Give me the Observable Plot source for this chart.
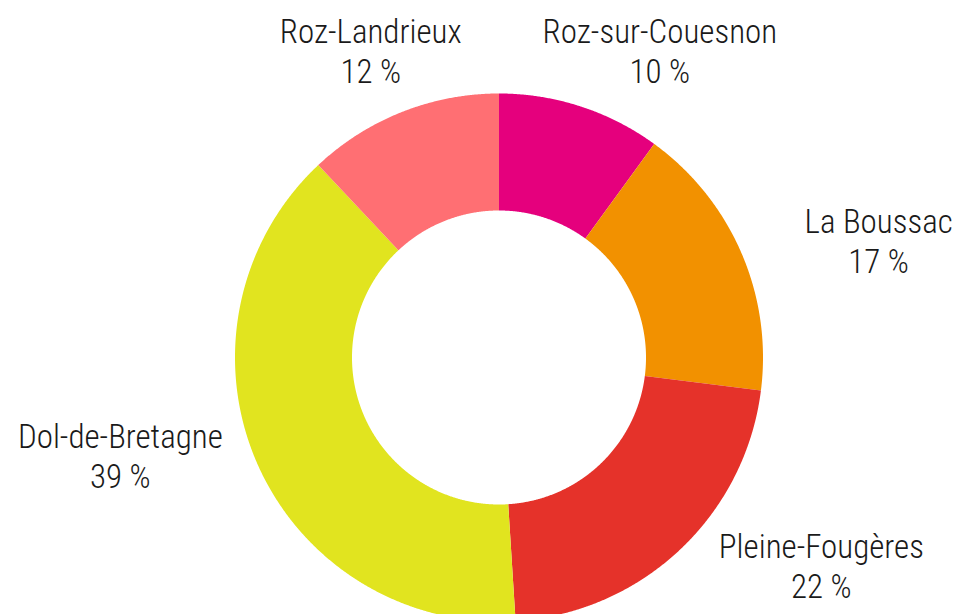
<!DOCTYPE html>
<html>
<head>
<meta charset="utf-8">
<script src="https://cdn.jsdelivr.net/npm/d3@7"></script>
<script src="https://cdn.jsdelivr.net/npm/@observablehq/plot@0.6"></script>
<style>
  html, body { margin: 0; padding: 0; background: #ffffff; }
  #chart svg { display: block; }
</style>
</head>
<body>
<div id="chart"></div>
<script>
// ---- data ----
const communes = ["Roz-sur-Couesnon", "La Boussac", "Pleine-Fougères", "Dol-de-Bretagne", "Roz-Landrieux"];
const shares = [10, 17, 22, 39, 12];
const sliceColors = ["#e5007d", "#f29100", "#e5322a", "#e1e41f", "#ff6f73"];

// ---- layout (not data) ----
const innerRatio = 147 / 264;       // hole radius relative to outer radius
const labelRx = 430 / 264, labelRy = 300 / 264; // label ellipse (outer radius units)
const labelYMax = 1.163, labelYMin = -0.792;    // keep labels inside the frame
const labelNudge = { // small pixel nudges to avoid crowding, in px
  "Roz-sur-Couesnon": [28, -22],
  "La Boussac": [-15, 2],
  "Pleine-Fougères": [28, -1],
  "Dol-de-Bretagne": [16, -21],
  "Roz-Landrieux": [30, -28]
};
const pxPerUnit = 264;

const rows = communes.map((name, i) => ({name, share: shares[i]}));
const arcs = d3.pie().sort(null).value(d => d.share)(rows);

// ring polygons derived from pie angles
const ringPts = [];
const step = Math.PI / 720;
for (const a of arcs) {
  const n = Math.max(2, Math.ceil((a.endAngle - a.startAngle) / step));
  for (let k = 0; k <= n; k++) {
    const t = a.startAngle + (a.endAngle - a.startAngle) * k / n;
    ringPts.push({name: a.data.name, x: Math.sin(t), y: Math.cos(t)});
  }
  for (let k = n; k >= 0; k--) {
    const t = a.startAngle + (a.endAngle - a.startAngle) * k / n;
    ringPts.push({name: a.data.name, x: innerRatio * Math.sin(t), y: innerRatio * Math.cos(t)});
  }
}

// labels at mid-angle
const labels = arcs.map(a => {
  const m = (a.startAngle + a.endAngle) / 2;
  const nd = labelNudge[a.data.name] || [0, 0];
  let y = labelRy * Math.cos(m);
  y = Math.max(labelYMin, Math.min(labelYMax, y));
  return {
    name: a.data.name,
    x: labelRx * Math.sin(m) + nd[0] / pxPerUnit,
    y: y - nd[1] / pxPerUnit,
    text: `${a.data.name}\n${a.data.share} %`
  };
});

const chart = Plot.plot({
  width: 957,
  height: 614,
  margin: 0,
  style: {background: "#ffffff", overflow: "visible"},
  x: {domain: [-1, 1], range: [234.5, 762.5], axis: null},
  y: {domain: [-1, 1], range: [621, 93], axis: null},
  color: {domain: communes, range: sliceColors},
  marks: [
    Plot.line(ringPts, {x: "x", y: "y", z: "name", fill: "name", stroke: "none", curve: "linear-closed"}),
    Plot.text(labels, {
      x: "x", y: "y", text: "text",
      textAnchor: "middle", lineAnchor: "middle",
      fontSize: 33, lineHeight: 1.21, fontWeight: 300,
      fontFamily: "'Liberation Sans Narrow', 'Roboto Condensed', 'DejaVu Sans Condensed', sans-serif",
      fill: "#1a1a1a"
    })
  ]
});
document.getElementById("chart").appendChild(chart);
</script>
</body>
</html>
